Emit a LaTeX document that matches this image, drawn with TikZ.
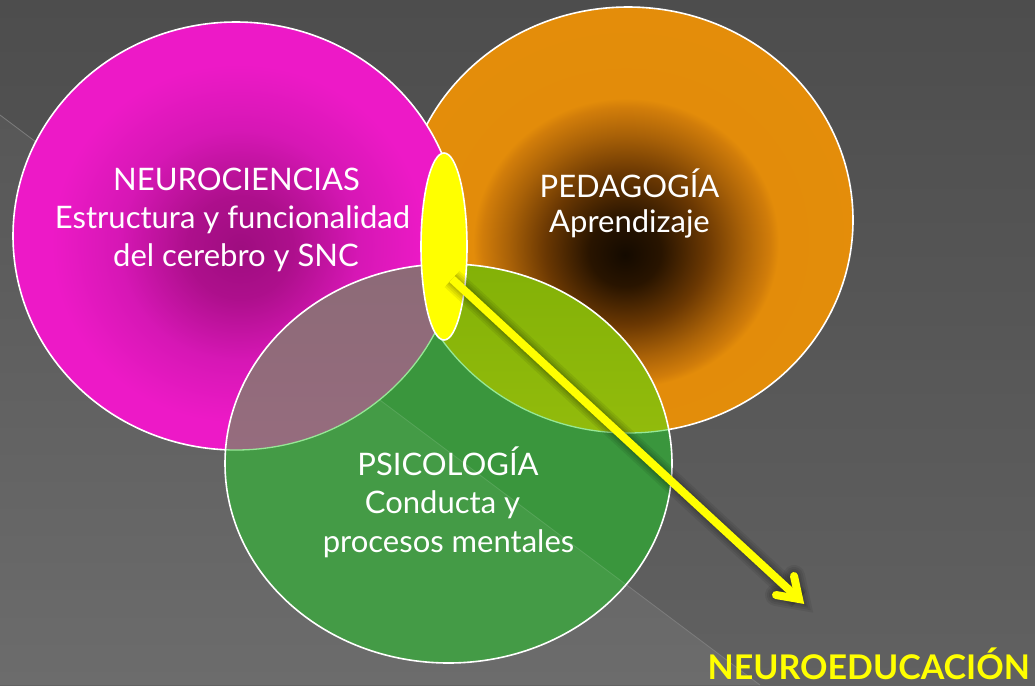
\documentclass[tikz,border=0pt]{standalone}
\usepackage{fontspec}
\setmainfont{Lato}
\usetikzlibrary{shapes.geometric}
\definecolor{bgtop}{RGB}{77,77,77}
\definecolor{bgbot}{RGB}{97,97,97}
\definecolor{tritop}{RGB}{87,87,87}
\definecolor{tribot}{RGB}{108,108,108}
\definecolor{diagc}{RGB}{125,125,125}
\definecolor{grn}{RGB}{58,150,61}
\definecolor{mautop}{RGB}{128,104,110}
\definecolor{maubot}{RGB}{150,108,126}
\definecolor{ygtop}{RGB}{108,163,0}
\definecolor{ygbot}{RGB}{146,187,12}
\definecolor{arcg}{RGB}{150,232,150}
\definecolor{yel}{RGB}{255,255,0}
\pgfdeclareradialshading{magsh}{\pgfpoint{0.5bp}{-1.5bp}}{rgb(0bp)=(0.62,0.05,0.50); rgb(6bp)=(0.68,0.06,0.55); rgb(13.5bp)=(0.84,0.09,0.71); rgb(21bp)=(0.93,0.10,0.78); rgb(50bp)=(0.93,0.10,0.79)}
\pgfdeclareradialshading{orsh}{\pgfpoint{-0.35bp}{-4.1bp}}{rgb(0bp)=(0.08,0.04,0); rgb(4bp)=(0.16,0.08,0); rgb(9bp)=(0.42,0.22,0.01); rgb(13bp)=(0.66,0.38,0.03); rgb(16bp)=(0.82,0.49,0.04); rgb(17bp)=(0.89,0.55,0.04); rgb(50bp)=(0.90,0.56,0.04)}
\tikzset{
  outline/.style={draw=white, line width=1.6pt},
  innerarc/.style={draw=arcg, line width=1.3pt},
  label/.style={text=white, anchor=base, inner sep=0pt, font=\fontsize{31pt}{37pt}\selectfont},
  halo/.style={draw=black, opacity=0.07, line join=miter},
  arrowline/.style={draw=yel, line width=8pt, line join=miter},
}
\begin{document}
\begin{tikzpicture}[x=1pt,y=-1pt]
\useasboundingbox (0,0) rectangle (1035,685);
% background
\shade[top color=bgtop,bottom color=bgbot] (0,0) rectangle (1035,685);
\shade[top color=tritop,bottom color=tribot] (0,115) -- (760,685) -- (0,685) -- cycle;
\draw[diagc, line width=0.8pt] (0,115) -- (760,685);
% orange
\shade[shading=orsh] (628,220) ellipse [x radius=225pt, y radius=213pt];
\draw[outline] (628,220) ellipse [x radius=225pt, y radius=213pt];
% magenta
\shade[shading=magsh] (236,236) ellipse [x radius=223pt, y radius=214pt];
\draw[outline] (236,236) ellipse [x radius=223pt, y radius=214pt];
% green
\fill[grn] (448.5,463.5) ellipse [x radius=223.5pt, y radius=199.5pt];
\begin{scope}
  \clip (448.5,463.5) ellipse [x radius=223.5pt, y radius=199.5pt];
  \fill[white, opacity=0.05] (0,115) -- (760,685) -- (0,685) -- cycle;
  \draw[white, opacity=0.12, line width=0.8pt] (0,115) -- (760,685);
  \shade[top color=ygtop, bottom color=ygbot] (628,220) ellipse [x radius=225pt, y radius=213pt];
  \draw[innerarc] (628,220) ellipse [x radius=225pt, y radius=213pt];
  \shade[top color=mautop, bottom color=maubot] (236,236) ellipse [x radius=223pt, y radius=214pt];
  \draw[innerarc] (236,236) ellipse [x radius=223pt, y radius=214pt];
\end{scope}
\draw[outline] (448.5,463.5) ellipse [x radius=223.5pt, y radius=199.5pt];
% texts
\node[label] (neu1) at (236.5,190) {NEUROCIENCIAS};
\node[label] (neu2) at (232.5,228) {Estructura y funcionalidad};
\node[label] (neu3) at (236,266) {del cerebro y SNC};
\node[label] (ped1) at (629.5,197) {PEDAGOGÍA};
\node[label] (ped2) at (629.5,232) {Aprendizaje};
\node[label] (psi1) at (448,475) {PSICOLOGÍA};
\node[label] (psi2) at (442.5,513) {Conducta y};
\node[label] (psi3) at (448.5,552) {procesos mentales};
\node[text=yel, anchor=base east, inner sep=0pt, text depth=0pt, font=\fontsize{34pt}{40pt}\selectfont\bfseries] (neuroedu) at (1030,679) {NEUROEDUCACIÓN};
% yellow intersection
\node[ellipse, fill=yel, draw=white, line width=1.6pt, minimum width=46pt, minimum height=187pt, inner sep=0pt] (core) at (444,246.5) {};
% arrow
\coordinate (s) at (452,279);
\coordinate (t) at (799,599);
\coordinate (hl) at (776,595);
\coordinate (hr) at (794,576);
\foreach \w in {22,18,14,11} {
  \draw[halo, line width=\w pt] (s) -- (t);
  \draw[halo, line width=\w pt, line cap=round] (hl) -- (t) -- (hr);
}
\draw[arrowline] (s) -- ([shift={(-3,-2.8)}]t);
\draw[arrowline, line cap=round] (hl) -- (t) -- (hr);
\end{tikzpicture}
\end{document}
